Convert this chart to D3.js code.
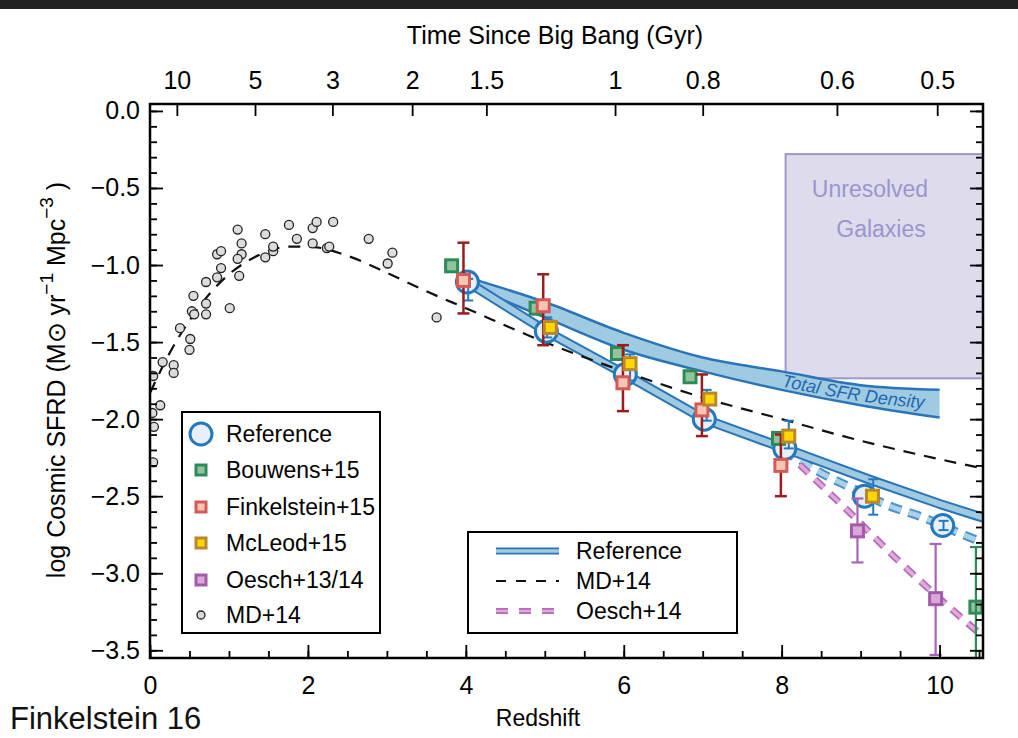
<!DOCTYPE html>
<html><head><meta charset="utf-8">
<script src="https://cdn.jsdelivr.net/npm/d3@7"></script>
<style>
body{margin:0;background:#fff}
svg{display:block}
text{font-family:"Liberation Sans",Arial,Helvetica,sans-serif}
</style>
</head><body>
<svg id="c" width="1018" height="738"></svg>
<script>
// ---------------- DATA ----------------
// MD+14 compilation points (redshift, log SFRD)
const mdZ=[1.11,1.16,1.16,1.11,1.13,1.01,0.85,0.90,0.90,0.85,0.71,0.71,0.71,0.55,0.53,0.56,0.38,0.51,0.50,0.16,0.30,0.30,0.04,0.13,0.03,0.05,0.04,1.46,1.46,1.56,1.56,1.76,1.86,2.06,2.11,2.06,2.24,2.27,2.32,2.77,3.07,3.01,3.63];
const mdY=[-0.77,-0.86,-0.93,-0.96,-1.07,-1.28,-0.93,-0.91,-1.02,-1.08,-1.11,-1.25,-1.32,-1.20,-1.30,-1.32,-1.41,-1.48,-1.55,-1.63,-1.65,-1.70,-1.72,-1.91,-1.96,-2.05,-2.28,-0.80,-0.95,-0.91,-0.88,-0.74,-0.83,-0.76,-0.72,-0.86,-0.89,-0.88,-0.72,-0.83,-0.92,-0.99,-1.34];
// MD+14 fit (dashed black)
const mdFitZ=[0,0.25,0.5,0.75,1,1.25,1.5,1.75,2,2.5,3,3.5,4,5,6,7,8,9,10,10.55];
const mdFitY=[-1.83,-1.57,-1.36,-1.19,-1.06,-0.97,-0.91,-0.88,-0.88,-0.94,-1.05,-1.17,-1.28,-1.50,-1.69,-1.86,-2.00,-2.14,-2.26,-2.32];
// Reference points (big open circles)
const refZ=[4.02,5.02,6.02,7.02,8.04,9.05,10.04];
const refY=[-1.11,-1.43,-1.71,-2.00,-2.19,-2.50,-2.69];
// small blue error bars
const refErrZ=[4.03,5.03,6.08,7.05,8.09,9.16,10.05];
const refErrHi=[-1.09,-1.34,-1.58,-1.81,-2.01,-2.39,-2.66];
const refErrLo=[-1.23,-1.47,-1.75,-2.01,-2.19,-2.62,-2.72];
// Reference band (solid) centre line
const refBandZ=[4.02,5.02,6.02,7.02,8.04,9.1,10,10.55];
const refBandY=[-1.11,-1.43,-1.71,-2.00,-2.19,-2.39,-2.55,-2.64];
// Reference extrapolation (dashed blue)
const refDashZ=[8.04,8.4,8.9,9.4,9.75,10.3,10.55];
const refDashY=[-2.19,-2.32,-2.45,-2.57,-2.63,-2.75,-2.80];
// Oesch+14 (dashed pink)
const oeLineZ=[8.04,8.26,8.87,9.38,9.84,10.55];
const oeLineY=[-2.20,-2.31,-2.61,-2.87,-3.09,-3.41];
// Total SFR density band
const totZ=[4.02,5,6,7,8,9,10];
const totHi=[-1.08,-1.24,-1.44,-1.60,-1.69,-1.78,-1.81];
const totLo=[-1.13,-1.34,-1.55,-1.69,-1.81,-1.91,-1.99];
// Bouwens+15
const bouZ=[3.82,4.89,5.92,6.84,7.96,10.46];
const bouY=[-1.005,-1.28,-1.574,-1.725,-2.125,-3.22];
const bouHi=[null,null,null,null,null,-2.83];
const bouLo=[null,null,null,null,null,-3.8];
// Finkelstein+15
const finZ=[3.97,4.98,5.99,6.99,7.99];
const finY=[-1.10,-1.264,-1.764,-1.94,-2.30];
const finHi=[-0.855,-1.06,-1.52,-1.71,-2.10];
const finLo=[-1.314,-1.52,-1.948,-2.11,-2.50];
// McLeod+15
const mclZ=[5.07,6.08,7.09,8.09,9.15];
const mclY=[-1.405,-1.64,-1.87,-2.11,-2.50];
// Oesch+13/14
const oesZ=[8.96,9.95];
const oesY=[-2.725,-3.165];
const oesHi=[-2.515,-2.81];
const oesLo=[-2.93,-3.53];
// Unresolved galaxies box [z0,z1], [yTop,yBottom]
const unresZ=[8.05,10.55];
const unresY=[-0.28,-1.735];
// Top axis: time since big bang
const timeZ=[0.34,1.33,2.31,3.32,4.26,5.89,7.0,8.7,9.97];
const timeLabels=["10","5","3","2","1.5","1","0.8","0.6","0.5"];
const yMajor=[0,-0.5,-1,-1.5,-2,-2.5,-3,-3.5];
const xMajor=[0,2,4,6,8,10];

// ---------------- SETUP ----------------
const L=150,R=983,T=104,B=658;
const x=d3.scaleLinear().domain([0,10.55]).range([L,R]);
const y=d3.scaleLinear().domain([0.045,-3.55]).range([T,B]);
const svg=d3.select('#c');
const FONT='"Liberation Sans",Arial,Helvetica,sans-serif';
const TF=25; // tick font

svg.append('rect').attr('x',0).attr('y',0).attr('width',1018).attr('height',9).attr('fill','#222');

const defs=svg.append('defs');
defs.append('clipPath').attr('id','clip').append('rect')
  .attr('x',L).attr('y',T).attr('width',R-L).attr('height',B-T);
const plot=svg.append('g').attr('clip-path','url(#clip)');

// Unresolved box
plot.append('rect')
  .attr('x',x(unresZ[0])).attr('y',y(unresY[0]))
  .attr('width',x(unresZ[1])-x(unresZ[0])).attr('height',y(unresY[1])-y(unresY[0]))
  .attr('fill','#dedcec').attr('stroke','#9c97cb').attr('stroke-width',2);
svg.append('text').attr('x',870).attr('y',197).attr('text-anchor','middle')
  .attr('font-size',23).attr('fill','#9a95cc').text('Unresolved');
svg.append('text').attr('x',881).attr('y',237).attr('text-anchor','middle')
  .attr('font-size',23).attr('fill','#9a95cc').text('Galaxies');

const BLUE='#2a74b8', LBLUE='#9ecae2';
// Total SFR band
const totPts=totZ.map((z,i)=>({z,hi:totHi[i],lo:totLo[i]}));
plot.append('path').datum(totPts)
  .attr('d',d3.area().x(d=>x(d.z)).y0(d=>y(d.lo)).y1(d=>y(d.hi)).curve(d3.curveMonotoneX))
  .attr('fill',LBLUE);
['hi','lo'].forEach(k=>{
  plot.append('path').datum(totPts)
    .attr('d',d3.line().x(d=>x(d.z)).y(d=>y(d[k])).curve(d3.curveMonotoneX))
    .attr('fill','none').attr('stroke',BLUE).attr('stroke-width',2.5);
});
// text along band
const midPts=totPts.map(d=>({z:d.z,m:(d.hi+d.lo)/2}));
defs.append('path').attr('id','totPath').datum(midPts)
  .attr('d',d3.line().x(d=>x(d.z)).y(d=>y(d.m)+6).curve(d3.curveMonotoneX));
svg.append('text').attr('font-size',18).attr('font-style','italic').attr('fill','#2467ad')
  .append('textPath').attr('href','#totPath').attr('startOffset',x(8.2)-x(4.02)).text('Total SFR Density');

// band-like lines
function bandLine(zs,ys,outer,inner,wo,wi,dash,curve){
  const pts=zs.map((z,i)=>[x(z),y(ys[i])]);
  const ln=d3.line().curve(curve||d3.curveLinear);
  const p1=plot.append('path').attr('d',ln(pts)).attr('fill','none').attr('stroke',outer).attr('stroke-width',wo).attr('stroke-linejoin','round');
  const p2=plot.append('path').attr('d',ln(pts)).attr('fill','none').attr('stroke',inner).attr('stroke-width',wi).attr('stroke-linejoin','round');
  if(dash){p1.attr('stroke-dasharray',dash);p2.attr('stroke-dasharray',dash);}
}
bandLine(refDashZ,refDashY,'#4a93c8','#a9d2ea',9,5,'12,8',d3.curveMonotoneX);
bandLine(oeLineZ,oeLineY,'#b46ab8','#e2a9dc',7,3.5,'12,9',d3.curveMonotoneX);
bandLine(refBandZ,refBandY,BLUE,LBLUE,10,6,null,d3.curveLinear);

// MD fit dashed
plot.append('path').datum(mdFitZ.map((z,i)=>[x(z),y(mdFitY[i])]))
  .attr('d',d3.line().curve(d3.curveMonotoneX))
  .attr('fill','none').attr('stroke','#111').attr('stroke-width',2.2).attr('stroke-dasharray','12,9');

// MD points
plot.selectAll('.md').data(mdZ).enter().append('circle')
  .attr('cx',d=>x(d)).attr('cy',(d,i)=>y(mdY[i])).attr('r',4.5)
  .attr('fill','#dcdcdc').attr('stroke','#222').attr('stroke-width',1.3);

// Reference circles
plot.selectAll('.ref').data(refZ).enter().append('circle')
  .attr('cx',d=>x(d)).attr('cy',(d,i)=>y(refY[i])).attr('r',11)
  .attr('fill','#e8eff9').attr('stroke','#2379bd').attr('stroke-width',3);

function errBar(zs,his,los,color,w,cap){
  zs.forEach((z,i)=>{
    if(his[i]==null) return;
    const cx=x(z);
    plot.append('line').attr('x1',cx).attr('x2',cx).attr('y1',y(his[i])).attr('y2',y(los[i])).attr('stroke',color).attr('stroke-width',w);
    [his[i],los[i]].forEach(v=>plot.append('line').attr('x1',cx-cap).attr('x2',cx+cap).attr('y1',y(v)).attr('y2',y(v)).attr('stroke',color).attr('stroke-width',w));
  });
}
errBar(refErrZ,refErrHi,refErrLo,'#2379bd',2,5);

function squares(zs,ys,stroke,fill){
  zs.forEach((z,i)=>{
    plot.append('rect').attr('x',x(z)-6).attr('y',y(ys[i])-6).attr('width',12).attr('height',12)
      .attr('fill',fill).attr('stroke',stroke).attr('stroke-width',3);
  });
}
// Bouwens
squares(bouZ,bouY,'#2e8b57','#92c49c');
errBar(bouZ,bouHi,bouLo,'#2e8b57',2.2,6);
// Finkelstein
errBar(finZ,finHi,finLo,'#9b1c1c',2.5,6);
squares(finZ,finY,'#d45a58','#f9c5b3');
// McLeod
squares(mclZ,mclY,'#b9882c','#ffd700');
// Oesch
errBar(oesZ,oesHi,oesLo,'#a764b2',2.2,6);
squares(oesZ,oesY,'#a35ba9','#d8a9d6');

// ---------------- AXES ----------------
function style(g){g.select('.domain').remove();g.selectAll('line').attr('stroke','#000').attr('stroke-width',1.8);
  g.selectAll('text').attr('font-size',TF).attr('font-family',FONT).attr('fill','#000');}
const fmt=d=>d3.format('.1f')(d);
svg.append('g').attr('transform',`translate(${L},0)`).call(d3.axisLeft(y).tickValues(yMajor).tickSize(-13).tickPadding(10).tickFormat(fmt)).call(style);
svg.append('g').attr('transform',`translate(${L},0)`).call(d3.axisLeft(y).tickValues(d3.range(0,-3.51,-0.1)).tickSize(-7).tickFormat('')).call(style);
svg.append('g').attr('transform',`translate(${R},0)`).call(d3.axisRight(y).tickValues(yMajor).tickSize(-13).tickFormat('')).call(style);
svg.append('g').attr('transform',`translate(${R},0)`).call(d3.axisRight(y).tickValues(d3.range(0,-3.51,-0.1)).tickSize(-7).tickFormat('')).call(style);
svg.append('g').attr('transform',`translate(0,${B})`).call(d3.axisBottom(x).tickValues(xMajor).tickSize(-13).tickPadding(18).tickFormat(d3.format('d'))).call(style);
svg.append('g').attr('transform',`translate(0,${B})`).call(d3.axisBottom(x).tickValues(d3.range(0,10.51,0.5)).tickSize(-7).tickFormat('')).call(style);
svg.append('g').attr('transform',`translate(0,${T})`).call(d3.axisTop(x).tickValues(timeZ).tickSize(-12).tickPadding(15).tickFormat((d,i)=>timeLabels[i])).call(style);

svg.append('rect').attr('x',L).attr('y',T).attr('width',R-L).attr('height',B-T)
  .attr('fill','none').attr('stroke','#000').attr('stroke-width',2.5);

// titles
svg.append('text').attr('x',555).attr('y',44).attr('text-anchor','middle').attr('font-size',25).text('Time Since Big Bang (Gyr)');
svg.append('text').attr('x',538).attr('y',726).attr('text-anchor','middle').attr('font-size',23).text('Redshift');
svg.append('text').attr('x',10).attr('y',729).attr('font-size',31).attr('font-family','"Open Sans",sans-serif').attr('fill','#111').text('Finkelstein 16');
const yl=svg.append('text').attr('transform','translate(65,380) rotate(-90)').attr('text-anchor','middle').attr('font-size',25);
yl.append('tspan').text('log Cosmic SFRD (M\u2299 yr');
yl.append('tspan').attr('dy',-12).attr('font-size',19).text('\u22121');
yl.append('tspan').attr('dy',12).text('  Mpc');
yl.append('tspan').attr('dy',-12).attr('font-size',19).text('\u22123');
yl.append('tspan').attr('dy',12).text(' )');

// ---------------- LEGENDS ----------------
const lg1=svg.append('g');
lg1.append('rect').attr('x',182).attr('y',412).attr('width',198).attr('height',221).attr('fill','#fff').attr('stroke','#000').attr('stroke-width',2);
const leg1Names=['Reference','Bouwens+15','Finkelstein+15','McLeod+15','Oesch+13/14','MD+14'];
const leg1Stroke=['#2379bd','#2e8b57','#d45a58','#b9882c','#a35ba9','#222'];
const leg1Fill=['#e8eff9','#92c49c','#f9c5b3','#ffd700','#d8a9d6','#d9d9d9'];
const leg1Y=[434,470,507,543,580,615];
leg1Names.forEach((n,i)=>{
  const cy=leg1Y[i];
  if(i===0) lg1.append('circle').attr('cx',201).attr('cy',cy).attr('r',11).attr('fill',leg1Fill[i]).attr('stroke',leg1Stroke[i]).attr('stroke-width',3);
  else if(i===5) lg1.append('circle').attr('cx',201).attr('cy',cy).attr('r',4).attr('fill',leg1Fill[i]).attr('stroke',leg1Stroke[i]).attr('stroke-width',1.3);
  else lg1.append('rect').attr('x',196).attr('y',cy-5).attr('width',10).attr('height',10).attr('fill',leg1Fill[i]).attr('stroke',leg1Stroke[i]).attr('stroke-width',3);
  lg1.append('text').attr('x',226).attr('y',cy).attr('dy','0.36em').attr('font-size',23).text(n);
});
const lg2=svg.append('g');
lg2.append('rect').attr('x',468).attr('y',532).attr('width',269).attr('height',101).attr('fill','#fff').attr('stroke','#000').attr('stroke-width',2);
const leg2Names=['Reference','MD+14','Oesch+14'];
const leg2Y=[551,581,611];
function legLine(yy,outer,inner,wo,wi,dash){
  const a=lg2.append('line').attr('x1',496).attr('x2',559).attr('y1',yy).attr('y2',yy).attr('stroke',outer).attr('stroke-width',wo);
  if(dash) a.attr('stroke-dasharray',dash);
  if(inner){const b=lg2.append('line').attr('x1',496).attr('x2',559).attr('y1',yy).attr('y2',yy).attr('stroke',inner).attr('stroke-width',wi);if(dash)b.attr('stroke-dasharray',dash);}
}
legLine(leg2Y[0],BLUE,LBLUE,7,3.5,null);
legLine(leg2Y[1],'#111',null,2.2,0,'10,10');
legLine(leg2Y[2],'#b46ab8','#e2a9dc',6,2.5,'12,11');
leg2Names.forEach((n,i)=>lg2.append('text').attr('x',576).attr('y',leg2Y[i]).attr('dy','0.36em').attr('font-size',23).text(n));
</script>
</body></html>
